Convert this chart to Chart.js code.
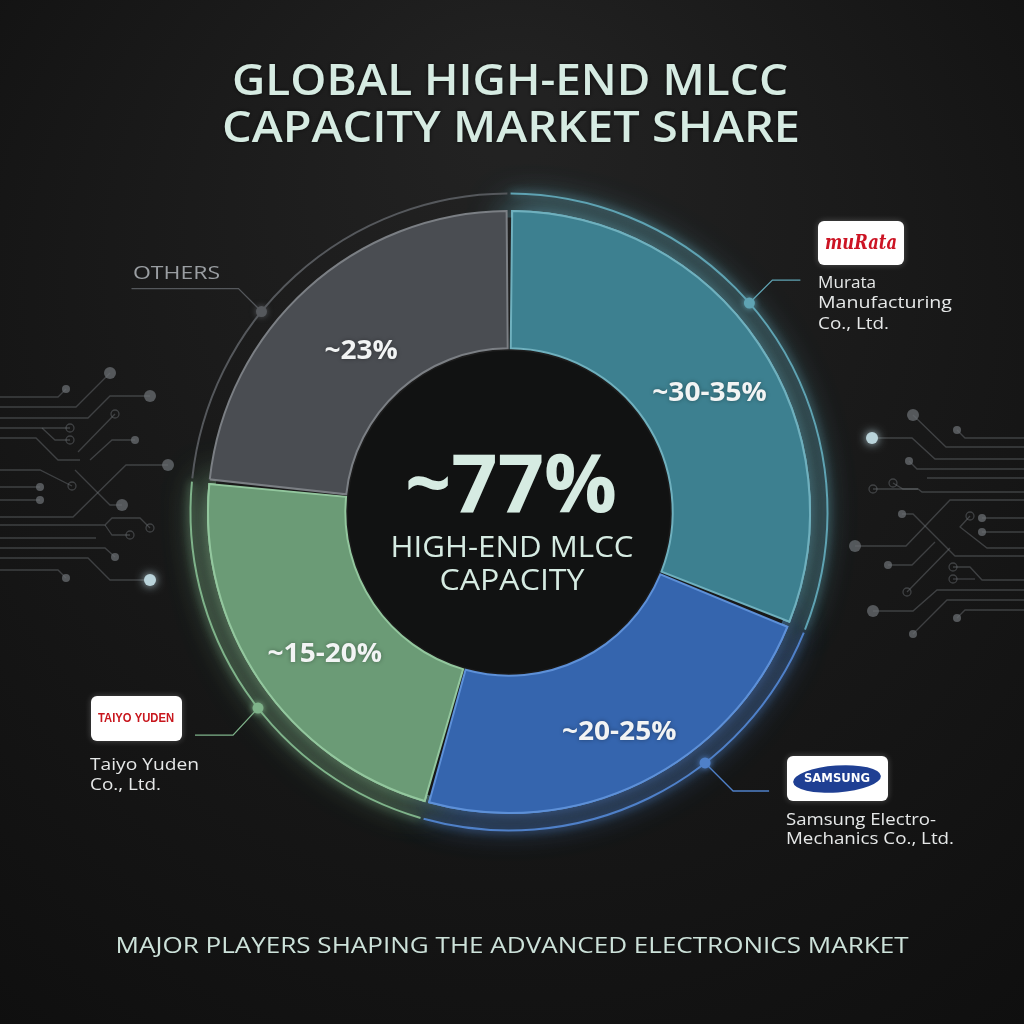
<!DOCTYPE html>
<html>
<head>
<meta charset="utf-8">
<script src="https://cdn.jsdelivr.net/npm/chart.js@4.4.0/dist/chart.umd.min.js"></script>
<style>
  html, body { margin: 0; padding: 0; background: #141414; }
  canvas { display: block; }
</style>
</head>
<body>
<canvas id="grafico" width="1024" height="1024"></canvas>
<script>
// data (angles of the segment boundaries)
const companies = ['Murata', 'Samsung Electro-Mechanics', 'Taiyo Yuden', 'Others'];
const shares = [31.1, 23.3, 22.2, 23.4];
const shareLabels = ['~30-35%', '~20-25%', '~15-20%', '~23%'];
const centerValue = '~77%';
const centerCaption = ['HIGH-END MLCC', 'CAPACITY'];
const titleLines = ['GLOBAL HIGH-END MLCC', 'CAPACITY MARKET SHARE'];
const footer = 'MAJOR PLAYERS SHAPING THE ADVANCED ELECTRONICS MARKET';

// styles
const fillColors = ['#3d8090', '#3565ae', '#6b9b76', '#4a4d52'];
const edgeColors = ['#6fb0be', '#5d90d8', '#93c79e', '#7b7f84'];
const ringColors = ['#5fa3b3', '#4f80c8', '#7fb38a', '#55585c'];
const calloutAngles = [49, 142, 232, 309];

const FONT = '"Open Sans", "Noto Sans", sans-serif';

// draws text stretched sideways to a given width (the reference font is wider than what we have)
function fitText(ctx, text, x, y, width) {
    const w = ctx.measureText(text).width;
    const sx = width ? width / w : 1;
    ctx.save();
    ctx.translate(x, y);
    ctx.scale(sx, 1);
    ctx.fillText(text, 0, 0);
    ctx.restore();
}

// circuit traces, purely decorative
const tracesLeft = [
    [[0,397],[58,397],[66,389]], [[0,407],[76,407],[110,373]], [[0,418],[88,418],[110,396],[150,396]],
    [[0,428],[70,428]], [[42,428],[55,440],[70,440]], [[0,438],[36,438],[58,460],[80,460]],
    [[78,452],[115,414]], [[90,460],[112,440],[135,440]], [[0,470],[40,470],[72,486]],
    [[0,487],[40,487]], [[0,500],[40,500]], [[75,470],[110,505],[122,505]],
    [[0,517],[73,517],[126,465],[168,465]], [[0,525],[105,525],[112,518],[140,518],[150,528]],
    [[105,525],[112,535],[130,535]], [[0,538],[96,538]], [[0,548],[105,548],[115,557]],
    [[0,558],[88,558],[110,580],[150,580]], [[0,570],[58,570],[66,578]]
];
const tracesRight = [
    [[872,438],[912,438],[935,459],[1024,459]], [[913,415],[946,447],[1024,447]],
    [[957,430],[965,438],[1024,438]], [[909,461],[917,469],[1024,469]], [[927,478],[1024,478]],
    [[893,483],[903,489],[918,489],[922,492],[1024,492]], [[873,489],[918,489]],
    [[855,546],[906,546],[950,500],[1024,500]], [[982,518],[1024,518]], [[982,532],[1024,532]],
    [[970,516],[960,527],[987,548],[1024,548]], [[902,514],[913,514],[955,556],[1024,556]],
    [[888,565],[912,565],[935,542]], [[907,592],[950,548]], [[953,567],[970,567],[982,580],[1024,580]],
    [[953,579],[975,579]], [[873,611],[913,611],[937,590],[1024,590]], [[957,618],[965,610],[1024,610]],
    [[913,634],[947,600],[1024,600]]
];
const traceEnds = { // 0 filled small, 1 filled big, 2 hollow ring, 3 bright
    left: [0,1,1,2,2,-1,2,0,2,0,0,1,1,2,2,-1,0,3,0],
    right: [3,1,0,0,-1,2,2,1,0,0,2,0,0,2,2,2,1,0,0]
};

function drawTraces(ctx, traces, ends, startAtFirst) {
    ctx.save();
    ctx.lineWidth = 1.3;
    ctx.strokeStyle = 'rgba(120,124,128,0.42)';
    traces.forEach(function(t, i) {
        ctx.beginPath();
        ctx.moveTo(t[0][0], t[0][1]);
        for (let k = 1; k < t.length; k++) ctx.lineTo(t[k][0], t[k][1]);
        ctx.stroke();
        const p = startAtFirst ? t[0] : t[t.length - 1];
        const kind = ends[i];
        if (kind < 0) return;
        ctx.beginPath();
        if (kind === 2) {
            ctx.arc(p[0], p[1], 4, 0, Math.PI * 2);
            ctx.stroke();
        } else {
            ctx.arc(p[0], p[1], kind === 0 ? 4 : 6, 0, Math.PI * 2);
            if (kind === 3) {
                ctx.shadowColor = 'rgba(200,230,240,0.9)';
                ctx.shadowBlur = 10;
                ctx.fillStyle = '#b9d3da';
            } else {
                ctx.fillStyle = 'rgba(105,109,113,0.75)';
            }
            ctx.fill();
            ctx.shadowBlur = 0;
        }
    });
    ctx.restore();
}

function roundBox(ctx, x, y, w, h, r) {
    ctx.beginPath();
    ctx.roundRect(x, y, w, h, r);
    ctx.fillStyle = '#ffffff';
    ctx.shadowColor = 'rgba(255,255,255,0.25)';
    ctx.shadowBlur = 6;
    ctx.fill();
    ctx.shadowBlur = 0;
}

const backdrop = {
    id: 'backdrop',
    beforeDraw(chart) {
        const ctx = chart.ctx;
        ctx.save();
        const g = ctx.createRadialGradient(512, 120, 40, 512, 420, 800);
        g.addColorStop(0, '#222222');
        g.addColorStop(1, '#0f0f0f');
        ctx.fillStyle = g;
        ctx.fillRect(0, 0, chart.width, chart.height);

        drawTraces(ctx, tracesLeft, traceEnds.left, false);
        drawTraces(ctx, tracesRight, traceEnds.right, true);

        ctx.fillStyle = '#d6ebe2';
        ctx.textAlign = 'center';
        ctx.textBaseline = 'alphabetic';
        ctx.shadowColor = 'rgba(0,0,0,0.6)';
        ctx.shadowBlur = 4;
        ctx.font = '600 43px ' + FONT;
        fitText(ctx, titleLines[0], 510, 95, 556);
        fitText(ctx, titleLines[1], 511, 142, 578);
        ctx.shadowBlur = 0;
        ctx.fillStyle = '#cde2da';
        ctx.font = '400 22px ' + FONT;
        fitText(ctx, footer, 512, 953, 793);
        ctx.restore();
    },
    beforeDatasetsDraw(chart) {
        const ctx = chart.ctx;
        const arcs = chart.getDatasetMeta(0).data;
        const cx = arcs[0].x, cy = arcs[0].y;
        ctx.save();
        // dark hole in the middle
        ctx.beginPath();
        ctx.arc(cx, cy, arcs[0].innerRadius, 0, Math.PI * 2);
        ctx.fillStyle = '#111212';
        ctx.fill();
        // keep glow outside the ring, the hole stays dark
        ctx.beginPath();
        ctx.rect(0, 0, chart.width, chart.height);
        ctx.arc(cx, cy, arcs[0].outerRadius - 4, 0, Math.PI * 2);
        ctx.clip('evenodd');
        arcs.forEach(function(el, i) {
            if (i === 3) return;
            ctx.save();
            ctx.shadowColor = ringColors[i];
            ctx.shadowBlur = 40;
            el.draw(ctx);
            ctx.restore();
        });
        arcs.forEach(function(el, i) {
            const r = el.outerRadius + 20;
            ctx.beginPath();
            ctx.arc(el.x, el.y, r, el.startAngle + 0.005, el.endAngle - 0.005);
            ctx.lineWidth = 2;
            ctx.strokeStyle = ringColors[i];
            ctx.shadowColor = ringColors[i];
            ctx.shadowBlur = i === 3 ? 0 : 8;
            ctx.stroke();
            ctx.shadowBlur = 0;
        });
        ctx.restore();
    },
    afterDatasetsDraw(chart) {
        const ctx = chart.ctx;
        const arcs = chart.getDatasetMeta(0).data;
        const cx = arcs[0].x, cy = arcs[0].y;
        const ringR = arcs[0].outerRadius + 20;
        ctx.save();

        // callout dots and leader lines
        const dots = calloutAngles.map(function(a) {
            const rad = (a - 90) * Math.PI / 180;
            return [cx + ringR * Math.cos(rad), cy + ringR * Math.sin(rad)];
        });
        const leaders = [
            [[23, -23], [51, -23]],
            [[28, 28], [64, 28]],
            [[-25, 27], [-63, 27]],
            [[-23, -23], [-130, -23]]
        ];
        dots.forEach(function(d, i) {
            ctx.strokeStyle = ringColors[i];
            ctx.lineWidth = 1.3;
            ctx.beginPath();
            ctx.moveTo(d[0], d[1]);
            leaders[i].forEach(function(o) { ctx.lineTo(d[0] + o[0], d[1] + o[1]); });
            ctx.stroke();
            ctx.beginPath();
            ctx.arc(d[0], d[1], 5.5, 0, Math.PI * 2);
            ctx.fillStyle = ringColors[i];
            ctx.shadowColor = ringColors[i];
            ctx.shadowBlur = 6;
            ctx.fill();
            ctx.shadowBlur = 0;
        });

        // logos
        roundBox(ctx, 818, 221, 86, 44, 6);
        ctx.fillStyle = '#cc1424';
        ctx.textAlign = 'center';
        ctx.textBaseline = 'middle';
        ctx.font = 'italic bold 21px "DejaVu Serif", serif';
        fitText(ctx, 'muRata', 861, 244, 72);

        roundBox(ctx, 91, 696, 91, 45, 6);
        ctx.fillStyle = '#c8161d';
        ctx.font = '600 12px "Liberation Sans", sans-serif';
        fitText(ctx, 'TAIYO YUDEN', 136, 719, 76);

        roundBox(ctx, 787, 756, 101, 45, 6);
        ctx.save();
        ctx.translate(837, 779);
        ctx.rotate(-0.07);
        ctx.beginPath();
        ctx.ellipse(0, 0, 44, 13.5, 0, 0, Math.PI * 2);
        ctx.fillStyle = '#1f3f93';
        ctx.fill();
        ctx.restore();
        ctx.fillStyle = '#ffffff';
        ctx.font = 'bold 12px "DejaVu Sans", sans-serif';
        fitText(ctx, 'SAMSUNG', 837, 779, 66);

        // company names
        ctx.textAlign = 'left';
        ctx.textBaseline = 'alphabetic';
        ctx.fillStyle = '#e6e8e8';
        ctx.font = '400 17px ' + FONT;
        fitText(ctx, 'Murata', 818, 288, 58);
        fitText(ctx, 'Manufacturing', 818, 308, 134);
        fitText(ctx, 'Co., Ltd.', 818, 329, 71);
        fitText(ctx, 'Taiyo Yuden', 90, 770, 109);
        fitText(ctx, 'Co., Ltd.', 90, 790, 71);
        fitText(ctx, 'Samsung Electro-', 786, 825, 150);
        fitText(ctx, 'Mechanics Co., Ltd.', 786, 844, 168);
        ctx.fillStyle = '#9a9ea2';
        ctx.font = '400 18px ' + FONT;
        fitText(ctx, companies[3].toUpperCase(), 133, 279, 87);

        // segment labels
        ctx.textAlign = 'center';
        ctx.textBaseline = 'middle';
        ctx.fillStyle = '#f2f4f4';
        ctx.font = 'bold 26px ' + FONT;
        ctx.shadowColor = 'rgba(0,0,0,0.35)';
        ctx.shadowBlur = 4;
        arcs.forEach(function(el, i) {
            const p = el.getCenterPoint();
            const w = ctx.measureText(shareLabels[i]).width;
            fitText(ctx, shareLabels[i], p.x + 8, p.y + 12, w * 1.08);
        });
        ctx.shadowBlur = 0;

        // centre text
        ctx.fillStyle = '#d6ebe2';
        ctx.font = '700 80px ' + FONT;
        ctx.textBaseline = 'alphabetic';
        fitText(ctx, centerValue, cx + 2, cy + 0, 212);
        ctx.font = '500 29px ' + FONT;
        fitText(ctx, centerCaption[0], cx + 3, cy + 45, 243);
        fitText(ctx, centerCaption[1], cx + 3, cy + 78, 145);
        ctx.restore();
    }
};

const ctx1 = document.getElementById('grafico').getContext('2d');
new Chart(ctx1, {
    type: 'doughnut',
    data: {
        labels: companies,
        datasets: [{
            data: shares,
            backgroundColor: fillColors,
            borderColor: edgeColors,
            borderWidth: 2,
            borderJoinStyle: 'miter',
            spacing: 5
        }]
    },
    options: {
        responsive: false,
        animation: false,
        cutout: '54%',
        layout: { padding: { left: 207, right: 213, top: 210, bottom: 210 } },
        plugins: { legend: { display: false }, tooltip: { enabled: false } }
    },
    plugins: [backdrop]
});
</script>
</body>
</html>
